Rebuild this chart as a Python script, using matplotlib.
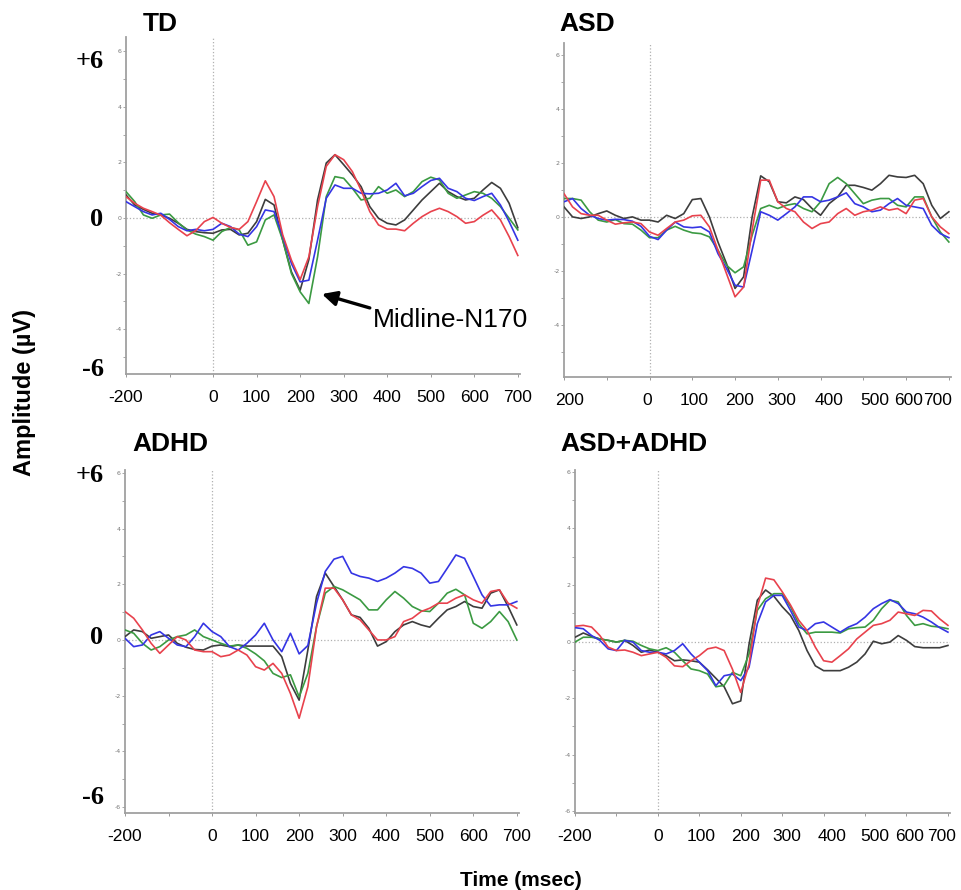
import matplotlib
matplotlib.use("Agg")
import matplotlib.pyplot as plt
from matplotlib.transforms import ScaledTranslation

# time axis (ms), sampled every 20 ms
time_ms = list(range(-200, 701, 20))

# amplitudes in microvolts
td_black = [0.83, 0.47, 0.31, 0.17, 0.11, -0.01, -0.19, -0.41, -0.49, -0.53, -0.55, -0.43, -0.41, -0.61, -0.55, -0.13,
            0.67, 0.47, -0.80, -1.94, -2.60, -1.50, 0.65, 1.98, 2.28, 1.92, 1.55, 1.13, 0.41, -0.01, -0.19, -0.25,
            -0.07, 0.29, 0.65, 0.95, 1.25, 0.95, 0.77, 0.65, 0.71, 1.01, 1.28, 1.07, 0.53, -0.35]
td_red = [0.77, 0.53, 0.35, 0.23, 0.10, -0.17, -0.41, -0.64, -0.46, -0.13, 0.02, -0.19, -0.34, -0.41, -0.13, 0.59,
          1.34, 0.77, -0.61, -1.52, -2.22, -1.40, 0.41, 1.86, 2.28, 2.10, 1.67, 1.00, 0.23, -0.25, -0.40, -0.40,
          -0.46, -0.19, 0.05, 0.23, 0.35, 0.23, 0.05, -0.19, -0.13, 0.10, 0.29, -0.07, -0.67, -1.35]
td_green = [0.95, 0.59, 0.11, -0.01, 0.11, 0.14, -0.17, -0.43, -0.58, -0.67, -0.80, -0.49, -0.34, -0.43, -0.98, -0.86,
            -0.07, 0.11, -0.80, -2.00, -2.66, -3.08, -1.40, 0.77, 1.49, 1.43, 1.07, 0.65, 0.71, 1.13, 0.89, 1.01,
            0.77, 0.95, 1.31, 1.47, 1.37, 0.89, 0.71, 0.83, 0.95, 0.89, 0.71, 0.41, -0.01, -0.43]
td_blue = [0.59, 0.41, 0.23, 0.11, 0.17, -0.05, -0.31, -0.46, -0.41, -0.46, -0.41, -0.19, -0.31, -0.58, -0.67, -0.31,
           0.29, 0.23, -0.67, -1.64, -2.30, -2.24, -0.80, 0.71, 1.19, 1.07, 1.07, 0.89, 0.87, 0.89, 1.01, 1.25,
           0.80, 0.89, 1.13, 1.35, 1.43, 1.07, 0.95, 0.71, 0.63, 0.77, 0.89, 0.47, -0.13, -0.80]

asd_black = [0.37, 0.00, -0.06, 0.00, 0.12, 0.22, 0.06, -0.06, 0.00, -0.12, -0.12, -0.19, 0.06, -0.06, 0.12, 0.64,
             0.68, 0.00, -0.93, -1.73, -2.65, -2.22, 0.00, 1.52, 1.30, 0.56, 0.52, 0.74, 0.64, 0.31, 0.06, 0.49,
             0.74, 1.17, 1.17, 1.09, 0.99, 1.23, 1.54, 1.48, 1.46, 1.54, 1.23, 0.43, -0.06, 0.19]
asd_red = [0.86, 0.37, 0.12, 0.06, 0.06, -0.12, -0.27, -0.22, -0.19, -0.25, -0.56, -0.68, -0.43, -0.19, -0.12, 0.04,
           0.06, -0.37, -1.23, -2.10, -2.96, -2.60, -0.49, 1.36, 1.36, 0.56, 0.31, 0.19, -0.19, -0.43, -0.25, -0.19,
           0.12, 0.31, 0.06, 0.19, 0.25, 0.37, 0.25, 0.31, 0.12, 0.62, 0.68, 0.00, -0.37, -0.62]
asd_green = [0.68, 0.68, 0.62, 0.19, -0.12, -0.19, -0.10, -0.25, -0.27, -0.49, -0.77, -0.77, -0.49, -0.35, -0.49, -0.59,
             -0.62, -0.74, -1.23, -1.79, -2.07, -1.85, -0.68, 0.31, 0.43, 0.31, 0.43, 0.49, 0.31, 0.19, 0.56, 1.23,
             1.46, 1.23, 0.86, 0.49, 0.62, 0.68, 0.68, 0.43, 0.37, 0.74, 0.74, 0.00, -0.56, -0.93]
asd_blue = [0.56, 0.68, 0.31, 0.06, -0.06, -0.12, -0.09, -0.10, -0.16, -0.35, -0.72, -0.84, -0.49, -0.19, -0.37, -0.40,
            -0.37, -0.56, -1.36, -1.91, -2.53, -2.60, -1.23, 0.19, 0.06, -0.12, 0.12, 0.37, 0.74, 0.74, 0.56, 0.62,
            0.74, 0.89, 0.49, 0.37, 0.19, 0.25, 0.49, 0.68, 0.43, 0.37, 0.31, -0.31, -0.62, -0.77]

adhd_black = [0.12, 0.36, 0.30, 0.06, 0.12, 0.18, -0.12, -0.26, -0.34, -0.36, -0.22, -0.18, -0.24, -0.18, -0.22, -0.22,
              -0.22, -0.22, -0.60, -1.56, -2.16, -0.36, 1.56, 2.40, 1.92, 1.44, 0.90, 0.81, 0.42, -0.22, -0.06, 0.30,
              0.54, 0.66, 0.54, 0.46, 0.78, 1.08, 1.20, 1.38, 1.20, 1.14, 1.68, 1.80, 1.20, 0.54]
adhd_red = [1.02, 0.78, 0.36, -0.12, -0.48, -0.18, 0.12, 0.00, -0.36, -0.42, -0.42, -0.60, -0.54, -0.36, -0.54, -0.96,
            -1.08, -0.84, -1.20, -1.92, -2.81, -1.68, 0.48, 1.86, 1.86, 1.44, 0.90, 0.72, 0.36, 0.00, 0.00, 0.12,
            0.66, 0.78, 1.02, 1.14, 1.32, 1.32, 1.50, 1.62, 1.44, 1.32, 1.74, 1.80, 1.32, 1.14]
adhd_green = [0.36, 0.24, -0.12, -0.36, -0.24, 0.00, 0.12, 0.18, 0.36, 0.12, 0.00, -0.12, -0.22, -0.18, -0.30, -0.50,
              -0.75, -1.20, -1.35, -1.25, -2.04, -1.20, 0.48, 1.68, 1.92, 1.80, 1.62, 1.44, 1.08, 1.08, 1.44, 1.74,
              1.50, 1.20, 1.05, 1.02, 1.32, 1.68, 1.82, 1.62, 0.60, 0.42, 0.66, 1.02, 0.66, 0.00]
adhd_blue = [0.06, -0.24, -0.18, 0.18, 0.30, 0.06, -0.18, -0.24, 0.12, 0.60, 0.30, 0.12, -0.24, -0.36, -0.12, 0.18,
             0.60, 0.00, -0.42, 0.24, -0.50, -0.20, 1.32, 2.46, 2.90, 3.00, 2.40, 2.28, 2.22, 2.10, 2.22, 2.40,
             2.63, 2.57, 2.40, 2.04, 2.10, 2.57, 3.05, 2.93, 2.28, 1.62, 1.22, 1.26, 1.26, 1.38]

both_black = [0.15, 0.30, 0.18, 0.09, 0.04, -0.02, 0.04, -0.14, -0.38, -0.30, -0.38, -0.50, -0.68, -0.65, -0.68, -0.73,
              -1.00, -1.30, -1.60, -2.20, -2.10, -0.10, 1.46, 1.82, 1.60, 1.23, 0.92, 0.39, -0.32, -0.86, -1.03, -1.03,
              -1.03, -0.91, -0.73, -0.44, 0.01, -0.08, -0.02, 0.21, 0.04, -0.18, -0.22, -0.22, -0.22, -0.14]
both_red = [0.54, 0.57, 0.51, 0.21, -0.20, -0.32, -0.30, -0.38, -0.50, -0.44, -0.38, -0.56, -0.86, -0.89, -0.68, -0.50,
            -0.26, -0.20, -0.32, -0.98, -1.80, -0.80, 1.23, 2.24, 2.18, 1.76, 1.29, 0.75, 0.39, -0.20, -0.68, -0.73,
            -0.50, -0.26, 0.09, 0.33, 0.57, 0.63, 0.75, 1.04, 0.98, 0.92, 1.10, 1.08, 0.80, 0.57]
both_green = [-0.02, 0.15, 0.15, 0.09, 0.04, -0.02, 0.04, 0.01, -0.14, -0.26, -0.32, -0.22, -0.38, -0.68, -0.97, -1.03,
              -1.15, -1.60, -1.55, -1.09, -1.21, -0.44, 1.10, 1.51, 1.69, 1.69, 1.23, 0.63, 0.27, 0.33, 0.33, 0.33,
              0.30, 0.45, 0.49, 0.51, 0.75, 1.16, 1.46, 1.40, 0.92, 0.57, 0.63, 0.54, 0.51, 0.45]
both_blue = [0.49, 0.45, 0.21, 0.04, -0.26, -0.32, 0.04, -0.02, -0.32, -0.38, -0.38, -0.44, -0.32, -0.08, -0.44, -0.73,
             -1.03, -1.56, -1.21, -1.15, -1.38, -0.91, 0.63, 1.40, 1.63, 1.63, 1.10, 0.51, 0.39, 0.63, 0.69, 0.51,
             0.33, 0.51, 0.63, 0.86, 1.16, 1.34, 1.48, 1.34, 1.04, 0.98, 0.86, 0.69, 0.49, 0.33]

xtick_pos = [-200, 0, 100, 200, 300, 400, 500, 600, 700]
xtick_lab = ['-200', '0', '100', '200', '300', '400', '500', '600', '700']
xtick_lab_asd = ['200', '0', '100', '200', '300', '400', '500', '600', '700']

line_colors = {'black': '#3d3d3d', 'green': '#3b9a42', 'blue': '#3535e4', 'red': '#e8424d'}

W, H = 962, 890
fig = plt.figure(figsize=(W / 100, H / 100), dpi=100)


def px_axes(left, top, right, bottom):
    return fig.add_axes([left / W, 1 - bottom / H, (right - left) / W, (bottom - top) / H])


def ftext(x, y, s, **kw):
    fig.text(x / W, 1 - y / H, s, **kw)


def draw_panel(ax, series, ylim, xlabels, label_shift=None):
    for name in ['black', 'green', 'blue', 'red']:
        ax.plot(time_ms, series[name], color=line_colors[name], lw=1.2, zorder=3)
    ax.axvline(0, color='#b0b0b0', lw=0.9, ls=':', zorder=1)
    ax.axhline(0, color='#b0b0b0', lw=0.9, ls=':', zorder=1)
    ax.set_xlim(-200, 705)
    ax.set_ylim(*ylim)
    for s in ['top', 'right']:
        ax.spines[s].set_visible(False)
    for s in ['left', 'bottom']:
        ax.spines[s].set_color('#a0a0a0')
        ax.spines[s].set_linewidth(1.3)
    ax.set_xticks(xtick_pos)
    ax.set_xticklabels(xlabels, fontsize=12.5, family='Liberation Sans')
    ax.set_xticks([-100], minor=True)
    ax.tick_params(axis='x', which='both', length=2.5, width=0.7, color='#999999',
                   labelcolor='black', pad=9)
    if label_shift:
        # labels in the right column sit a little left of their ticks
        for lab, dx in zip(ax.get_xticklabels(), label_shift):
            lab.set_transform(lab.get_transform() + ScaledTranslation(dx / 100, 0, fig.dpi_scale_trans))
    yt = [v for v in [-6, -4, -2, 0, 2, 4, 6] if ylim[0] <= v <= ylim[1]]
    ax.set_yticks(yt)
    ax.set_yticklabels([str(v) for v in yt], fontsize=4.5, color='#777777')
    ax.set_yticks([v for v in range(-6, 7) if ylim[0] <= v <= ylim[1] and v not in yt], minor=True)
    ax.tick_params(axis='y', which='both', length=2, width=0.6, color='#999999', pad=1)
    ax.patch.set_alpha(0)


ax_td = px_axes(126, 37, 520, 374)
draw_panel(ax_td, {'black': td_black, 'red': td_red, 'green': td_green, 'blue': td_blue},
           (-5.62, 6.52), xtick_lab)
ax_asd = px_axes(564, 43, 951, 377)
draw_panel(ax_asd, {'black': asd_black, 'red': asd_red, 'green': asd_green, 'blue': asd_blue},
           (-5.93, 6.44), xtick_lab_asd, label_shift=[6, -2, 2, 5, 4, 8, 11, 2, -11])
ax_adhd = px_axes(125, 470, 519, 813)
draw_panel(ax_adhd, {'black': adhd_black, 'red': adhd_red, 'green': adhd_green, 'blue': adhd_blue},
           (-6.21, 6.10), xtick_lab)
ax_both = px_axes(575, 470, 950, 813)
draw_panel(ax_both, {'black': both_black, 'red': both_red, 'green': both_green, 'blue': both_blue},
           (-6.06, 6.06), xtick_lab, label_shift=[0, 0, 2, 5, 5, 8, 10, 3, -6])

# N170 arrow in TD panel
ax_td.annotate('', xy=(250, -2.74), xytext=(360, -3.24),
               arrowprops=dict(arrowstyle='-|>', color='black', lw=2.4, mutation_scale=22,
                               shrinkA=0, shrinkB=0))
ax_td.text(367, -3.67, 'Midline-N170', fontsize=19, family='Liberation Sans',
           ha='left', va='center')

# panel titles
title_kw = dict(fontsize=19, fontweight='bold', family='Liberation Sans', ha='center', va='center')
ftext(160, 24, 'TD', **title_kw)
ftext(587, 24, 'ASD', **title_kw)
ftext(170, 444, 'ADHD', **title_kw)
ftext(634, 444, 'ASD+ADHD', **title_kw)

# big amplitude labels on the left column
big_kw = dict(fontsize=19, fontweight='bold', family='Liberation Serif', ha='right', va='center')
ftext(104, 61, '+6', **big_kw)
ftext(103, 220, '0', **big_kw)
ftext(104, 369, '-6', **big_kw)
ftext(104, 476, '+6', **big_kw)
ftext(103, 638, '0', **big_kw)
ftext(104, 798, '-6', **big_kw)

ftext(25, 392, 'Amplitude (\u00b5V)', fontsize=17, fontweight='bold', family='Liberation Sans',
      rotation=90, ha='center', va='center')
ftext(521, 881, 'Time (msec)', fontsize=15, fontweight='bold', family='Liberation Sans',
      ha='center', va='center')

fig.savefig('out.png', dpi=100)
